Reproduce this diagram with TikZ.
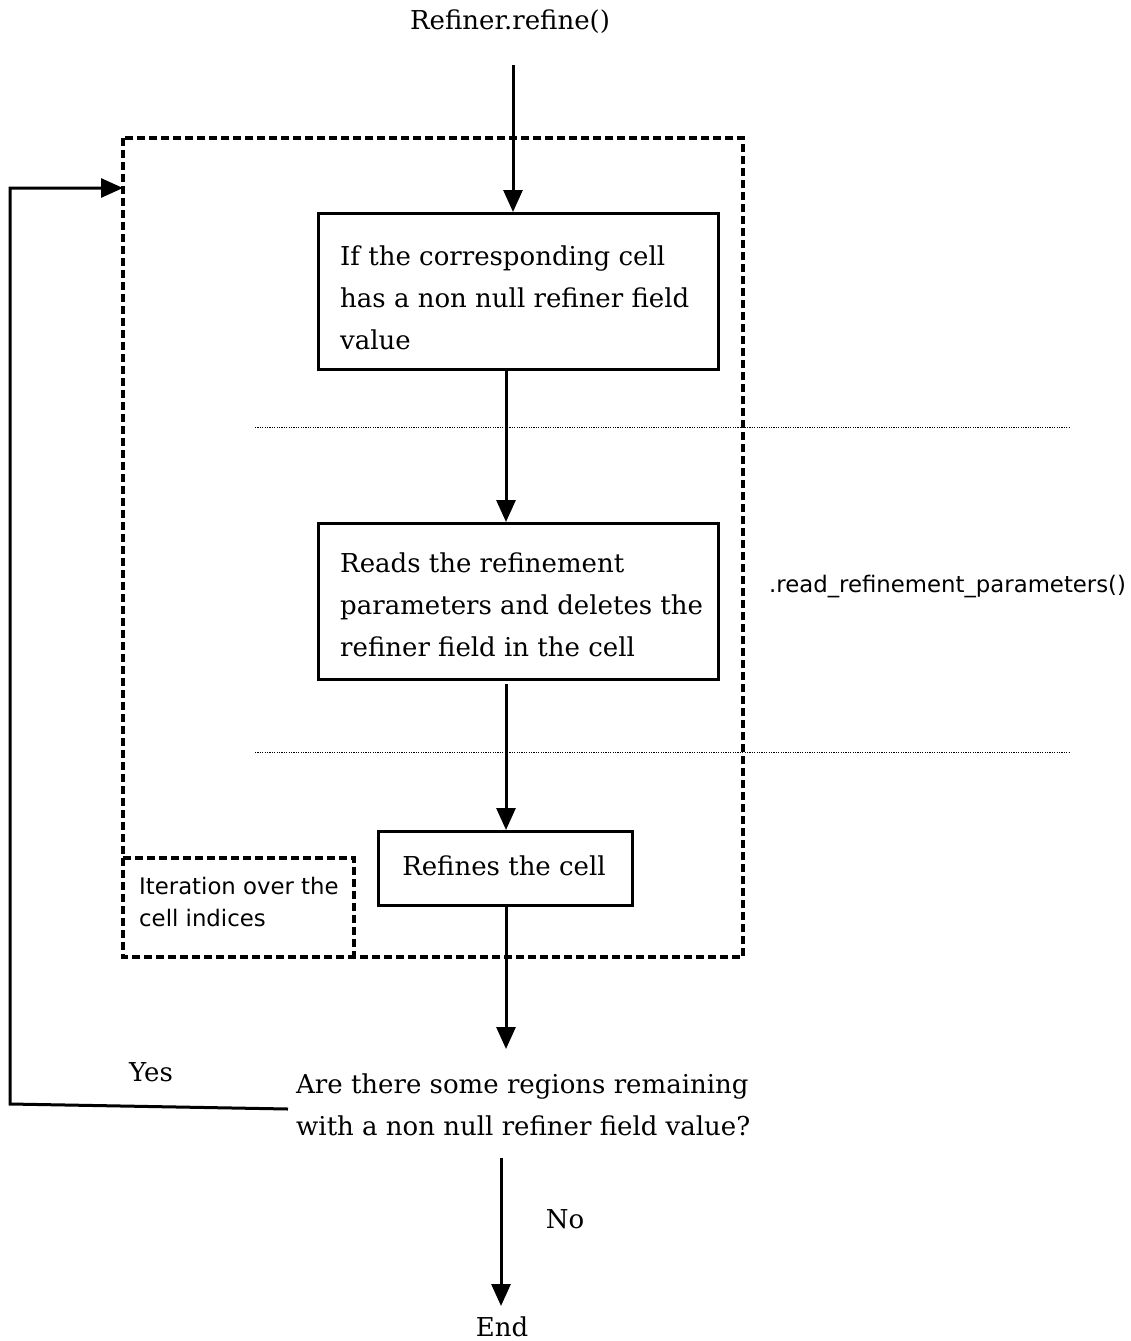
\documentclass[tikz,border=0pt]{standalone}
\usepackage{fontspec}
\setmainfont{DejaVu Serif}
\newfontfamily\labelfont{DejaVu Sans}
\usetikzlibrary{arrows.meta}
\begin{document}
\begin{tikzpicture}[x=1pt,y=-1pt,
  stepbox/.style={draw, line width=3pt, inner sep=0pt},
  flow/.style={line width=3pt, -{Triangle[length=22pt,width=19pt]}},
  frame/.style={draw, line width=3.2pt, dash pattern=on 8pt off 4pt},
  sep/.style={line width=0.8pt, dash pattern=on 1.2pt off 1.2pt},
  txt/.style={font=\fontsize{26}{42}\selectfont, inner sep=0pt, align=left},
  small/.style={font=\labelfont\fontsize{22.8}{32}\selectfont, inner sep=0pt, align=left}]
\useasboundingbox (0,0) rectangle (1131,1341);

% entry point
\node[txt] (start) at (510,22) {Refiner.refine()};
\coordinate (in) at (513,65);

% loop frame and its label
\draw[frame] (123,138) rectangle (743,957);
\coordinate (frameleft) at (123,188);
\draw[frame] (123,858) -- (354,858) -- (354,957);
\node[small, anchor=west] (loop) at (139,902) {Iteration over the\\cell indices};

% separators between the steps
\coordinate (s1a) at (255,427); \coordinate (s1b) at (1070,427);
\coordinate (s2a) at (255,752); \coordinate (s2b) at (1070,752);
\draw[sep] (s1a) -- (s1b);
\draw[sep] (s2a) -- (s2b);
\node[small, anchor=west] (method) at (769,587) {.read\_refinement\_parameters()};

% steps
\node[stepbox, minimum width=400pt, minimum height=156pt] (b1) at (518,291) {};
\node[txt, anchor=west] (t1) at (340,298) {If the corresponding cell\\has a non null refiner field\\value};
\node[stepbox, minimum width=400pt, minimum height=156pt] (b2) at (518,601) {};
\node[txt, anchor=west] (t2) at (340,605) {Reads the refinement\\parameters and deletes the\\refiner field in the cell};
\node[stepbox, minimum width=254pt, minimum height=74pt] (b3) at (505,868) {};
\node[txt] (t3) at (504,866) {Refines the cell};

% question and exits
\node[txt, anchor=west] (q) at (296,1105) {Are there some regions remaining\\with a non null refiner field value?};
\node[txt] (yes) at (151,1072) {Yes};
\node[txt] (no) at (565,1219) {No};
\node[txt] (end) at (502,1327) {End};

% connector end points
\coordinate (b1in) at (513,212);
\coordinate (b1out) at (506,369);
\coordinate (b2in) at (506,522);
\coordinate (b2out) at (506,684);
\coordinate (b3in) at (506,830);
\coordinate (b3out) at (506,905);
\coordinate (qin) at (506,1049);
\coordinate (qout) at (501,1158);
\coordinate (endin) at (501,1306);
\coordinate (qyes) at (288,1109);
\coordinate (back1) at (10,1104);
\coordinate (back2) at (10,188);

% connectors
\draw[flow] (in) -- (b1in);
\draw[flow] (b1out) -- (b2in);
\draw[flow] (b2out) -- (b3in);
\draw[flow] (b3out) -- (qin);
\draw[flow] (qout) -- (endin);
\draw[flow] (qyes) -- (back1) -- (back2) -- (frameleft);
\end{tikzpicture}
\end{document}
